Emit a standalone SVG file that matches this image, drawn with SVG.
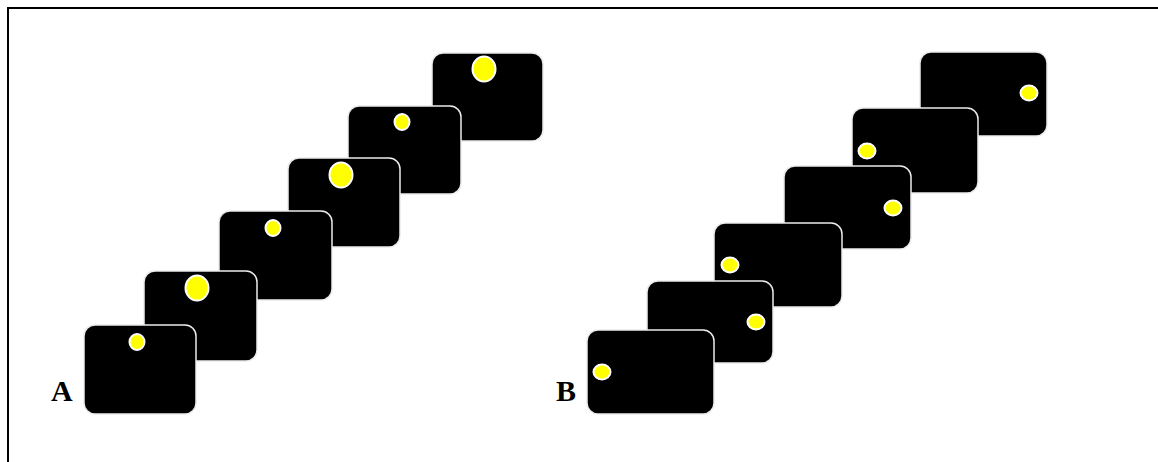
<svg xmlns="http://www.w3.org/2000/svg" width="1158" height="462" viewBox="0 0 1158 462">
<style>
.card{fill:#000;stroke:#ececec;stroke-width:1.5}
.dot{fill:#ffff00;stroke:#fff;stroke-width:2}
.lbl{font-family:'Liberation Serif','Times New Roman',Times,serif;font-weight:700;font-size:30px;fill:#000}
</style>
<rect x="0" y="0" width="1158" height="462" fill="#fff"/>
<rect x="8" y="8" width="1160" height="470" fill="none" stroke="#000" stroke-width="2"/>
<g id="panelA">
<g id="A6"><rect class="card" x="432" y="53" width="111" height="88" rx="11"/><ellipse class="dot" cx="484" cy="69" rx="11.5" ry="12.5"/></g>
<g id="A5"><rect class="card" x="348" y="106" width="113" height="88" rx="11"/><ellipse class="dot" cx="402" cy="122" rx="7.5" ry="8"/></g>
<g id="A4"><rect class="card" x="288" y="158" width="112" height="89" rx="11"/><ellipse class="dot" cx="341" cy="175" rx="11.5" ry="12.5"/></g>
<g id="A3"><rect class="card" x="219" y="211" width="113" height="89" rx="11"/><ellipse class="dot" cx="273" cy="228" rx="7.5" ry="8"/></g>
<g id="A2"><rect class="card" x="144" y="271" width="113" height="90" rx="11"/><ellipse class="dot" cx="197" cy="288" rx="11.5" ry="12.5"/></g>
<g id="A1"><rect class="card" x="84" y="325" width="112" height="89" rx="11"/><ellipse class="dot" cx="137" cy="342" rx="7.5" ry="8"/></g>
<text class="lbl" x="51" y="401">A</text>
</g>
<g id="panelB">
<g id="B6"><rect class="card" x="920" y="52" width="127" height="84" rx="11"/><ellipse class="dot" cx="1029" cy="93" rx="8.5" ry="7.5"/></g>
<g id="B5"><rect class="card" x="852" y="108" width="126" height="85" rx="11"/><ellipse class="dot" cx="867" cy="151" rx="8.5" ry="7.5"/></g>
<g id="B4"><rect class="card" x="784" y="166" width="127" height="83" rx="11"/><ellipse class="dot" cx="893" cy="208" rx="8.5" ry="7.5"/></g>
<g id="B3"><rect class="card" x="714" y="223" width="128" height="84" rx="11"/><ellipse class="dot" cx="730" cy="265" rx="8.5" ry="7.5"/></g>
<g id="B2"><rect class="card" x="647" y="281" width="126" height="82" rx="11"/><ellipse class="dot" cx="756" cy="322" rx="8.5" ry="7.5"/></g>
<g id="B1"><rect class="card" x="587" y="330" width="127" height="84" rx="11"/><ellipse class="dot" cx="602" cy="372" rx="8.5" ry="7.5"/></g>
<text class="lbl" x="556" y="401">B</text>
</g>
<g id="connectors"></g>
</svg>
